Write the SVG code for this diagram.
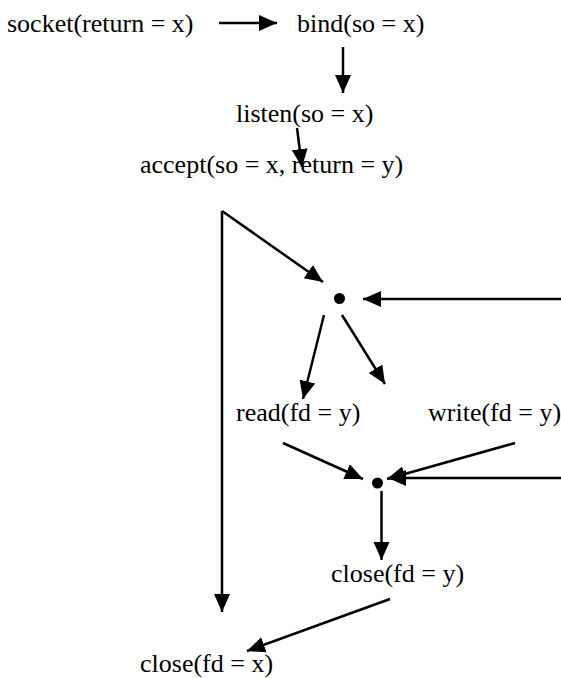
<svg xmlns="http://www.w3.org/2000/svg" width="561" height="678" viewBox="0 0 561 678">
<style>
text{font-family:"Liberation Serif","Times New Roman",serif;font-size:26px;fill:#000}
.c{stroke:#000;stroke-width:2.5;fill:none;marker-end:url(#ah)}
</style>
<defs>
<marker id="ah" markerUnits="userSpaceOnUse" markerWidth="20" markerHeight="18" refX="18" refY="8.5" orient="auto">
<path d="M0,0.5 L18,8.5 L0,16.5 z" fill="#000"/>
</marker>
</defs>
<rect width="561" height="678" fill="#fff"/>
<g id="socket"><text x="7" y="32">socket(return = x)</text></g>
<g id="bind"><text x="297" y="32">bind(so = x)</text></g>
<g id="listen"><text x="236" y="122">listen(so = x)</text></g>
<g id="accept"><text x="140" y="173">accept(so = x, return = y)</text></g>
<g id="dot1"><circle cx="339.5" cy="298.5" r="5.5" fill="#000"/></g>
<g id="read"><text x="236" y="421">read(fd = y)</text></g>
<g id="write"><text x="428" y="421">write(fd = y)</text></g>
<g id="dot2"><circle cx="377.5" cy="483" r="5.5" fill="#000"/></g>
<g id="closey"><text x="331" y="582">close(fd = y)</text></g>
<g id="closex"><text x="140" y="672">close(fd = x)</text></g>
<g id="connectors">
<line class="c" x1="219" y1="23" x2="277" y2="23"/>
<line class="c" x1="343" y1="47" x2="343" y2="93"/>
<line class="c" x1="297" y1="128" x2="302" y2="167"/>
<line class="c" x1="222" y1="211" x2="323" y2="282"/>
<line class="c" x1="222" y1="211" x2="222" y2="612"/>
<line class="c" x1="561" y1="299" x2="363" y2="299"/>
<line class="c" x1="324" y1="315" x2="303" y2="399"/>
<line class="c" x1="342" y1="315" x2="385" y2="384"/>
<line class="c" x1="283" y1="443" x2="363" y2="479"/>
<line class="c" x1="515" y1="443" x2="387" y2="479"/>
<line class="c" x1="561" y1="478" x2="388" y2="478"/>
<line class="c" x1="381.5" y1="491" x2="381.5" y2="560"/>
<line class="c" x1="390" y1="599" x2="247" y2="651"/>
</g>
</svg>
